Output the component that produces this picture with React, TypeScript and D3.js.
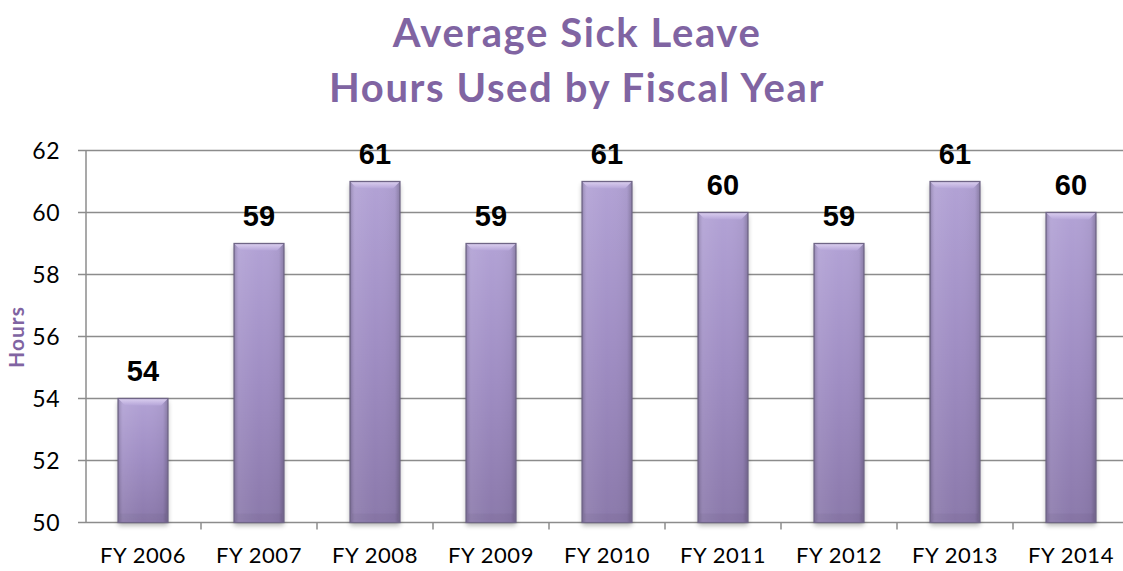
import React from "react";
import * as d3 from "d3";

const categories = ["FY 2006", "FY 2007", "FY 2008", "FY 2009", "FY 2010", "FY 2011", "FY 2012", "FY 2013", "FY 2014"];
const values = [54, 59, 61, 59, 61, 60, 59, 61, 60];
const yTicks = [50, 52, 54, 56, 58, 60, 62];
const titleLines = ["Average Sick Leave", "Hours Used by Fiscal Year"];
const yLabel = "Hours";

const W = 1123, H = 571;
const left = 85, bandW = 116;
const x = d3.scaleBand<string>().domain(categories).range([left, left + bandW * categories.length]).paddingInner(0.57).paddingOuter(0.285);
const y = d3.scaleLinear().domain([50, 62]).range([522.5, 150.5]);

const purple = "#8064A2";
const font = "Lato, 'Open Sans', sans-serif";

export default function App() {
  const bw = x.bandwidth();
  const bev = 7;
  return (
    <svg width={W} height={H} style={{ position: "absolute", left: 0, top: 0 }}>
      <defs>
        <linearGradient id="barV" x1="0" x2="0" y1="0" y2="1">
          <stop offset="0" stopColor="#B2A2D5" />
          <stop offset="0.5" stopColor="#9F8DC3" />
          <stop offset="1" stopColor="#8B79AB" />
        </linearGradient>
        <linearGradient id="barH" x1="0" x2="1" y1="0" y2="0">
          <stop offset="0" stopColor="#000" stopOpacity="0.18" />
          <stop offset="0.1" stopColor="#fff" stopOpacity="0.08" />
          <stop offset="0.5" stopColor="#fff" stopOpacity="0" />
          <stop offset="0.9" stopColor="#000" stopOpacity="0.04" />
          <stop offset="1" stopColor="#000" stopOpacity="0.22" />
        </linearGradient>
        <linearGradient id="bevTop" x1="0" x2="0" y1="0" y2="1">
          <stop offset="0" stopColor="#DCD0F0" />
          <stop offset="1" stopColor="#B5A5D8" />
        </linearGradient>
        <filter id="shadow" x="-20%" y="-5%" width="140%" height="115%">
          <feGaussianBlur in="SourceAlpha" stdDeviation="2.5" />
          <feOffset dx="0" dy="3" result="b" />
          <feComponentTransfer><feFuncA type="linear" slope="0.3" /></feComponentTransfer>
          <feMerge><feMergeNode /><feMergeNode in="SourceGraphic" /></feMerge>
        </filter>
      </defs>
      <rect width={W} height={H} fill="#fff" />
      {titleLines.map((t, i) => (
        <text key={i} x={577} y={47 + i * 55} textAnchor="middle" fontFamily={font} fontWeight={700} fontSize={40} letterSpacing={1.6} fill={purple}>{t}</text>
      ))}
      {yTicks.map((t) => (
        <g key={t}>
          <line x1={78} x2={W} y1={y(t)} y2={y(t)} stroke="#8C8C8C" strokeWidth={1.5} />
          <text x={60} y={y(t) + 8} textAnchor="end" fontFamily={font} fontSize={23} letterSpacing={0.5} fill="#000">{t}</text>
        </g>
      ))}
      <line x1={left + 1} x2={left + 1} y1={y(62)} y2={y(50)} stroke="#8C8C8C" strokeWidth={1.5} />
      {categories.map((c, i) => (
        <line key={"t" + i} x1={left + bandW * (i + 1)} x2={left + bandW * (i + 1)} y1={y(50)} y2={y(50) + 7} stroke="#8C8C8C" strokeWidth={1.5} />
      ))}
      <text transform={`translate(24,337) rotate(-90)`} textAnchor="middle" fontFamily={font} fontWeight={700} fontSize={21} letterSpacing={1} fill={purple}>{yLabel}</text>
      {categories.map((c, i) => {
        const x0 = x(c)!;
        const top = y(values[i]);
        const bot = y(50);
        return (
          <g key={c}>
            <g filter="url(#shadow)">
              <rect x={x0} y={top} width={bw} height={bot - top} fill="url(#barV)" />
            </g>
            <rect x={x0} y={top} width={bw} height={bot - top} fill="url(#barH)" />
            <polygon points={`${x0},${top} ${x0 + bw},${top} ${x0 + bw - bev},${top + bev} ${x0 + bev},${top + bev}`} fill="url(#bevTop)" />
            <rect x={x0 + 2} y={bot - 9} width={bw - 4} height={7} fill="#000" opacity={0.035} />
            <rect x={x0} y={top} width={bw} height={bot - top} fill="none" stroke="#6F6586" strokeWidth={1.3} />
            <text x={x0 + bw / 2} y={top - 18} textAnchor="middle" fontFamily="'Liberation Sans', Arial, sans-serif" fontWeight={700} fontSize={29} fill="#000">{values[i]}</text>
            <text x={left + bandW * (i + 0.5)} y={563} textAnchor="middle" fontFamily={font} fontSize={22} letterSpacing={0.6} fill="#000">{c}</text>
          </g>
        );
      })}
    </svg>
  );
}
